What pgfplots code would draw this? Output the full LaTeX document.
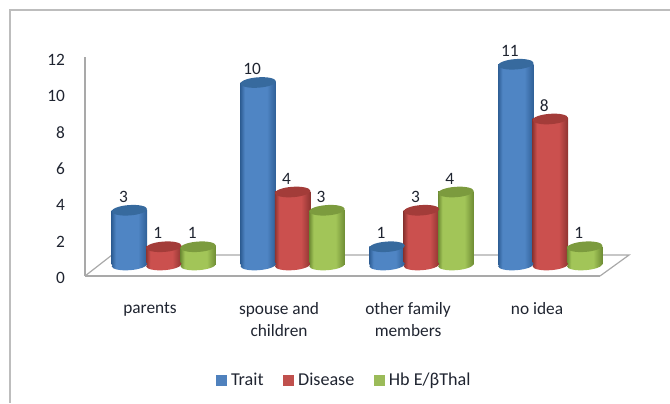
\documentclass[border=0pt]{standalone}
\usepackage{pgfplots}
\usepackage{fontspec}
\setmainfont{Carlito}
\pgfplotsset{compat=1.18}
\usepackage{pgfplotstable}

\definecolor{axisgrey}{HTML}{A9A9A9}
\definecolor{framegrey}{HTML}{BDBDBD}
\definecolor{labelink}{HTML}{1F2430}
\definecolor{traitC}{HTML}{4F85C4}
\definecolor{traitE}{HTML}{2F5F96}
\definecolor{traitT}{HTML}{376A9E}
\definecolor{diseaseC}{HTML}{CB504E}
\definecolor{diseaseE}{HTML}{8E3431}
\definecolor{diseaseT}{HTML}{A33C39}
\definecolor{hbC}{HTML}{A2C558}
\definecolor{hbE}{HTML}{6E8C34}
\definecolor{hbT}{HTML}{7C9B3E}
\definecolor{traitL}{HTML}{4F81BD}
\definecolor{diseaseL}{HTML}{C0504D}
\definecolor{hbL}{HTML}{9BBB59}

% Cylinder shading and end caps, tilted a little to suggest the 3D view
\newcommand{\declarecaps}[1]{%
  \pgfdeclarehorizontalshading{#1body}{100bp}{%
    color(0bp)=(#1E); color(25bp)=(#1E); color(31bp)=(#1C);
    color(62bp)=(#1C); color(75bp)=(#1E); color(100bp)=(#1E)}%
  \pgfdeclareplotmark{#1top}{%
    \pgfsetfillcolor{#1T}%
    \pgfpathellipse{\pgfpointorigin}{\pgfqpoint{13.27pt}{0.93pt}}{\pgfqpoint{-0.27pt}{3.89pt}}%
    \pgfusepathqfill}%
  \pgfdeclareplotmark{#1base}{%
    \pgfpathellipse{\pgfpointorigin}{\pgfqpoint{13.27pt}{0.93pt}}{\pgfqpoint{-0.27pt}{3.89pt}}%
    \pgfshadepath{#1body}{0}%
    \pgfusepath{discard}}%
}
\declarecaps{trait}
\declarecaps{disease}
\declarecaps{hb}

% One x position per bar, one table per series
\pgfplotstableread{
x      y
-0.267 3
0.733  10
1.733  1
2.733  11
}\traitdata
\pgfplotstableread{
x      y
0      1
1      4
2      3
3      8
}\diseasedata
\pgfplotstableread{
x      y
0.267  1
1.267  3
2.267  4
3.267  1
}\hbdata

% Base, shaded body and top of one series of cylinders; each body is its
% own plot so that the shading spans a single bar
\newcommand{\cylinders}[3]{%
  \addlegendimage{legend image code/.code={\fill[#1L] (0pt,-3.5pt) rectangle (7.5pt,4pt);}}
  \addlegendentry{#3}
  \addplot[forget plot,only marks,mark=#1base] table[x=x,y expr=0] {#2};
  \pgfplotsinvokeforeach{0,1,2,3}{%
    \addplot[forget plot,ybar,bar shift=0pt,bar width=26.6pt,draw=none,
      shade,shading=#1body,shading angle=0,
      skip coords between index={0}{##1},
      skip coords between index={\numexpr##1+1\relax}{4}]
      table[x=x,y=y] {#2};
  }%
  \addplot[forget plot,only marks,mark=#1top,
    nodes near coords,
    every node near coord/.style={font=\fontsize{13}{15}\selectfont,
      text=labelink,anchor=center,xshift=-4.5pt,yshift=10pt}]
    table[x=x,y=y] {#2};
}

\begin{document}
\begin{tikzpicture}
\useasboundingbox (0pt,0pt) rectangle (502.5pt,302.25pt);
% Canvas and chart frame
\begin{axis}[at={(0pt,0pt)},anchor=south west,scale only axis,
  width=502.5pt,height=302.25pt,xmin=0,xmax=670,ymin=0,ymax=403,
  y dir=reverse,hide axis]
  \addplot[framegrey,line width=1pt] coordinates {(670,10) (10,10) (10,403)};
\end{axis}
% Value scale, floor and category names
\begin{axis}[at={(63.75pt,95.25pt)},anchor=south west,scale only axis,
  width=386.25pt,height=164.25pt,
  xmin=-0.504,xmax=3.488,ymin=0,ymax=12,clip=false,
  axis x line*=bottom,axis y line*=left,
  axis line style={draw=axisgrey,line width=0.9pt,-},
  major tick length=0pt,
  ytick={0,2,4,6,8,10,12},
  xtick={0,1,2,3},
  xticklabels={parents,{spouse and\\children},{other family\\members},no idea},
  /pgf/number format/assume math mode=true,
  xticklabel style={font=\fontsize{13}{16.5}\selectfont,text=labelink,
    align=center,anchor=north,yshift=-16pt},
  yticklabel style={font=\fontsize{13}{15}\selectfont,text=labelink,
    anchor=east,xshift=-11.5pt,yshift=-1.8pt}]
  \addplot[axisgrey,line width=0.9pt] coordinates
    {(3.488,0) (3.713,1.15) (-0.295,1.15) (-0.504,0)};
\end{axis}
% Cylinders with their value labels, and the legend
\begin{axis}[at={(63.75pt,103.5pt)},anchor=south west,scale only axis,
  width=408pt,height=164.25pt,
  xmin=-0.6117,xmax=3.611,ymin=0,ymax=12,clip=false,
  hide axis,
  /pgf/number format/assume math mode=true,
  legend style={at={(0.477,-0.527)},anchor=center,draw=none,fill=none,
    font=\fontsize{13.6}{15}\selectfont,text=labelink,legend columns=3,
    /tikz/every even column/.style={column sep=12.5pt},
    /tikz/every odd column/.style={column sep=1.5pt}},
  legend cell align=left]
  \cylinders{trait}{\traitdata}{Trait}
  \cylinders{disease}{\diseasedata}{Disease}
  \cylinders{hb}{\hbdata}{Hb E/βThal}
\end{axis}
\end{tikzpicture}
\end{document}
